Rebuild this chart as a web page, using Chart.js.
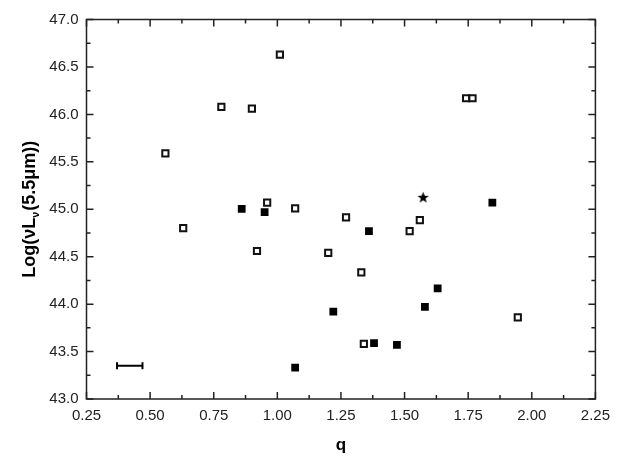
<!DOCTYPE html>
<html>
<head>
<meta charset="utf-8">
<script src="https://cdn.jsdelivr.net/npm/chart.js@4.4.1/dist/chart.umd.min.js"></script>
<style>
  html, body { margin: 0; padding: 0; background: #fff; }
  #wrap { width: 618px; height: 459px; }
</style>
</head>
<body>
<div id="wrap"><canvas id="plot" width="618" height="459"></canvas></div>
<script>
// open squares
const openQ = [0.56, 0.63, 0.78, 0.90, 0.92, 0.96, 1.01, 1.07, 1.20, 1.27, 1.33, 1.34, 1.52, 1.56, 1.742, 1.767, 1.945]
const openL = [45.59, 44.80, 46.08, 46.06, 44.56, 45.07, 46.63, 45.01, 44.54, 44.915, 44.335, 43.58, 44.77, 44.886, 46.17, 46.17, 43.86]
// filled squares
const filledQ = [0.86, 0.95, 1.07, 1.22, 1.36, 1.38, 1.47, 1.58, 1.63, 1.845]
const filledL = [45.005, 44.97, 43.33, 43.92, 44.77, 43.59, 43.57, 43.97, 44.166, 45.07]
// star
const starQ = [1.573]
const starL = [45.125]
// error bar (typical uncertainty on q)
const errQ = [0.37, 0.47]
const errL = [43.35, 43.35]

const xTicks = [0.25, 0.50, 0.75, 1.00, 1.25, 1.50, 1.75, 2.00, 2.25]
const yTicks = [43.0, 43.5, 44.0, 44.5, 45.0, 45.5, 46.0, 46.5, 47.0]

function toPoints(xs, ys) {
    return xs.map(function(x, i) {
        return { x: x, y: ys[i] }
    })
}

// small filled star for the marker
function makeStar() {
    const c = document.createElement('canvas')
    c.width = 13
    c.height = 13
    const g = c.getContext('2d')
    g.fillStyle = '#000'
    g.beginPath()
    for (let i = 0; i < 10; i++) {
        const r = i % 2 === 0 ? 6 : 2.5
        const a = -Math.PI / 2 + i * Math.PI / 5
        const px = 6.5 + r * Math.cos(a)
        const py = 6.8 + r * Math.sin(a)
        if (i === 0) g.moveTo(px, py)
        else g.lineTo(px, py)
    }
    g.closePath()
    g.fill()
    return c
}

const frame = {
    id: 'frame',
    afterDraw(chart) {
        const c = chart.ctx
        const a = chart.chartArea
        const xs = chart.scales.x
        const ys = chart.scales.y
        c.save()
        c.strokeStyle = '#222'
        c.lineWidth = 1.5
        c.strokeRect(a.left, a.top, a.right - a.left, a.bottom - a.top)
        c.beginPath()
        for (let i = 0; i < xTicks.length; i++) {
            const px = xs.getPixelForValue(xTicks[i])
            c.moveTo(px, a.bottom); c.lineTo(px, a.bottom - 7)
            c.moveTo(px, a.top); c.lineTo(px, a.top + 7)
            if (i < xTicks.length - 1) {
                const pm = xs.getPixelForValue((xTicks[i] + xTicks[i + 1]) / 2)
                c.moveTo(pm, a.bottom); c.lineTo(pm, a.bottom - 4)
                c.moveTo(pm, a.top); c.lineTo(pm, a.top + 4)
            }
        }
        for (let i = 0; i < yTicks.length; i++) {
            const py = ys.getPixelForValue(yTicks[i])
            c.moveTo(a.left, py); c.lineTo(a.left + 7, py)
            c.moveTo(a.right, py); c.lineTo(a.right - 7, py)
            if (i < yTicks.length - 1) {
                const pm = ys.getPixelForValue((yTicks[i] + yTicks[i + 1]) / 2)
                c.moveTo(a.left, pm); c.lineTo(a.left + 4, pm)
                c.moveTo(a.right, pm); c.lineTo(a.right - 4, pm)
            }
        }
        c.stroke()

        // y title with subscript nu
        c.translate(30, (a.top + a.bottom) / 2)
        c.rotate(-Math.PI / 2)
        c.fillStyle = '#000'
        c.textBaseline = 'middle'
        const big = 'bold 18px "Liberation Sans", Arial, sans-serif'
        const small = 'bold 11px "Liberation Sans", Arial, sans-serif'
        const p1 = 'Log(\u03BDL'
        const sub = '\u03BD'
        const p2 = '(5.5\u03BCm))'
        c.font = big
        const w1 = c.measureText(p1).width
        const w3 = c.measureText(p2).width
        c.font = small
        const w2 = c.measureText(sub).width + 1
        let x0 = -(w1 + w2 + w3) / 2
        c.font = big
        c.fillText(p1, x0, 0)
        c.font = small
        c.fillText(sub, x0 + w1, 6)
        c.font = big
        c.fillText(p2, x0 + w1 + w2, 0)
        c.restore()
    }
}

const canvas = document.getElementById('plot')
const tickFont = { family: '"Liberation Sans", Arial, sans-serif', size: 15 }

new Chart(canvas, {
    type: 'scatter',
    data: {
        datasets: [{
            label: 'open',
            data: toPoints(openQ, openL),
            pointStyle: 'rect',
            pointRadius: 4.4,
            pointBorderWidth: 2,
            borderColor: '#111',
            backgroundColor: '#fff'
        }, {
            label: 'filled',
            data: toPoints(filledQ, filledL),
            pointStyle: 'rect',
            pointRadius: 5.5,
            pointBorderWidth: 0,
            borderColor: '#000',
            backgroundColor: '#000'
        }, {
            label: 'star',
            data: toPoints(starQ, starL),
            pointStyle: makeStar(),
            pointRadius: 6
        }, {
            label: 'error',
            type: 'line',
            data: toPoints(errQ, errL),
            showLine: true,
            borderColor: '#000',
            borderWidth: 2,
            pointStyle: 'line',
            pointRotation: 90,
            pointRadius: 3.5,
            pointBorderWidth: 2,
            pointBorderColor: '#000'
        }]
    },
    options: {
        responsive: false,
        animation: false,
        events: [],
        layout: { padding: { top: 19.5, right: 22.5, left: 0, bottom: 0 } },
        plugins: {
            legend: { display: false },
            tooltip: { enabled: false }
        },
        scales: {
            x: {
                type: 'linear',
                min: 0.25,
                max: 2.25,
                afterBuildTicks: function(s) {
                    s.ticks = xTicks.map(function(v) { return { value: v } })
                },
                afterFit: function(s) { s.height = 60 },
                grid: { display: false, drawTicks: false },
                border: { display: false },
                ticks: {
                    padding: 8,
                    color: '#222',
                    font: tickFont,
                    callback: function(v) { return v.toFixed(2) }
                },
                title: {
                    display: true,
                    text: 'q',
                    color: '#000',
                    padding: { top: 0, bottom: 3 },
                    font: { family: '"Liberation Sans", Arial, sans-serif', size: 17, weight: 'bold' }
                }
            },
            y: {
                type: 'linear',
                min: 43,
                max: 47,
                afterBuildTicks: function(s) {
                    s.ticks = yTicks.map(function(v) { return { value: v } })
                },
                afterFit: function(s) { s.width = 86.5 },
                grid: { display: false, drawTicks: false },
                border: { display: false },
                ticks: {
                    padding: 8,
                    color: '#222',
                    font: tickFont,
                    callback: function(v) { return v.toFixed(1) }
                }
            }
        }
    },
    plugins: [frame]
})
</script>
</body>
</html>
